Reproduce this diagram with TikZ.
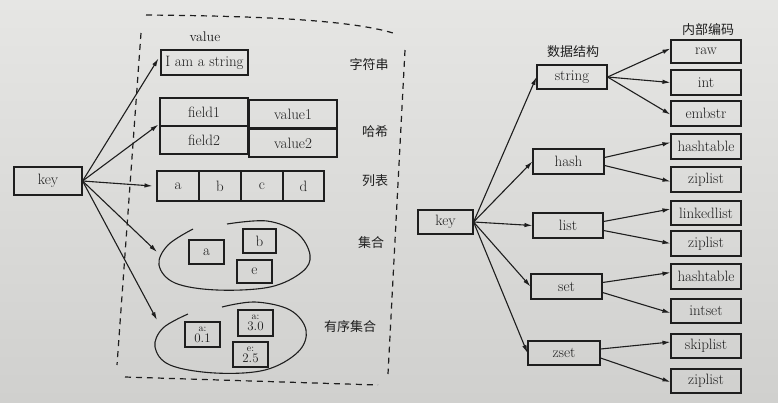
\documentclass[tikz,border=0pt]{standalone}
\usepackage{fontspec}
\newfontfamily\cjk{Noto Sans CJK SC}
\usetikzlibrary{arrows.meta}
\definecolor{paper}{RGB}{230,230,228}
\definecolor{paperdark}{RGB}{208,208,206}
\definecolor{ink}{RGB}{30,30,30}
\tikzset{
  box/.style={draw=ink, line width=1.1pt, inner sep=0pt, text=ink, font=\fontsize{15}{17}\selectfont},
  zbox/.style={box, align=center, font=\fontsize{12}{12}\selectfont},
  arr/.style={draw=ink, line width=1.1pt, -{Latex[length=8pt,width=4.5pt]}},
  dashline/.style={draw=ink, line width=1.2pt, dash pattern=on 6pt off 5pt},
  loopline/.style={draw=ink, line width=1.1pt},
  cn/.style={text=ink, font=\cjk\fontsize{13}{15}\selectfont},
  lbl/.style={text=ink, font=\fontsize{14}{16}\selectfont}
}
\newcommand{\zval}[2]{{\fontsize{10}{10}\selectfont #1}\\[-1pt]{\fontsize{13}{13}\selectfont #2}}
\begin{document}
\begin{tikzpicture}[x=1pt,y=-1pt]
\shade[top color=paper, bottom color=paperdark] (0,0) rectangle (778,402);
\useasboundingbox (0,0) rectangle (778,402);

% ---------- left diagram ----------
\node[box, minimum width=68pt, minimum height=28pt] (lkey) at (48,181) {key};
\node[lbl] (valuelbl) at (205,37) {value};
\node[box, minimum width=87pt, minimum height=25pt] (str) at (204.5,62.5) {I am a string};
\node[box, minimum width=88pt, minimum height=28pt] (f1) at (204,112) {field1};
\node[box, minimum width=88pt, minimum height=28pt] (v1) at (293,114) {value1};
\node[box, minimum width=88pt, minimum height=28pt] (f2) at (204,140) {field2};
\node[box, minimum width=88pt, minimum height=28pt] (v2) at (293,143) {value2};
\node[box, minimum width=42pt, minimum height=30pt] (la) at (178,186) {a};
\node[box, minimum width=42pt, minimum height=30pt] (lb) at (220,186) {b};
\node[box, minimum width=42pt, minimum height=30pt] (lc) at (262,186) {c};
\node[box, minimum width=41pt, minimum height=30pt] (ld) at (303.5,186) {d};
\node[box, minimum width=35pt, minimum height=24pt] (sa) at (206.5,252) {a};
\node[box, minimum width=33pt, minimum height=24pt] (sb) at (259.5,241) {b};
\node[box, minimum width=35pt, minimum height=23pt] (se) at (254.5,271.5) {e};
\node[zbox, minimum width=35pt, minimum height=25pt] (za) at (202.5,334.5) {\zval{a:}{0.1}};
\node[zbox, minimum width=35pt, minimum height=26pt] (zb) at (255.5,323) {\zval{a:}{3.0}};
\node[zbox, minimum width=35pt, minimum height=25pt] (ze) at (250.5,354.5) {\zval{e:}{2.5}};

\draw[loopline] plot[smooth, tension=0.6] coordinates {(193,229) (168,245) (159,265) (175,283) (217,290) (270,287) (302,272) (310,255) (297,233) (267,221) (227,224)};
\draw[loopline] plot[smooth, tension=0.6] coordinates {(188,314) (163,328) (155,347) (170,365) (215,373) (265,370) (298,352) (306,330) (290,310) (255,302) (222,307)};

\node[cn] (c1) at (369,65) {字符串};
\node[cn] (c2) at (375,132) {哈希};
\node[cn] (c3) at (375,181) {列表};
\node[cn] (c4) at (371,243) {集合};
\node[cn] (c5) at (350,327) {有序集合};

\draw[dashline] (146,15) .. controls (260,16) and (350,20) .. (393,33);
\draw[dashline] (141,33) -- (117,365);
\draw[dashline] (405,50) -- (388,374);
\draw[dashline] (125,377) -- (378,385);

\coordinate (setTip) at (157,252);
\coordinate (zsetTip) at (157,320);
\draw[arr] (lkey.east) -- ([xshift=-2pt,yshift=4pt]str.west);
\draw[arr] (lkey.east) -- ([xshift=-1pt,yshift=2pt]f1.south west);
\draw[arr] (lkey.east) -- ([xshift=-4pt]la.west);
\draw[arr] (lkey.east) -- (setTip);
\draw[arr] (lkey.east) -- (zsetTip);

% ---------- right diagram ----------
\node[cn] (dslbl) at (573,52) {数据结构};
\node[cn] (enclbl) at (708,30) {内部编码};
\node[box, minimum width=55pt, minimum height=24pt] (rkey) at (445.5,222) {key};
\node[box, minimum width=70pt, minimum height=24pt] (string) at (572,77) {string};
\node[box, minimum width=71pt, minimum height=25pt] (hash) at (568.5,161.5) {hash};
\node[box, minimum width=70pt, minimum height=25pt] (list) at (568,225.5) {list};
\node[box, minimum width=71pt, minimum height=25pt] (set) at (566.5,286.5) {set};
\node[box, minimum width=72pt, minimum height=24pt] (zset) at (564,353) {zset};

\node[box, minimum width=70pt, minimum height=23pt] (raw) at (706,51.5) {raw};
\node[box, minimum width=70pt, minimum height=25pt] (int) at (706,82.5) {int};
\node[box, minimum width=70pt, minimum height=25pt] (embstr) at (706,113.5) {embstr};
\node[box, minimum width=70pt, minimum height=25pt] (ht1) at (706,146.5) {hashtable};
\node[box, minimum width=70pt, minimum height=25pt] (zl1) at (706,179.5) {ziplist};
\node[box, minimum width=70pt, minimum height=24pt] (ll) at (706,213) {linkedlist};
\node[box, minimum width=70pt, minimum height=25pt] (zl2) at (706,243.5) {ziplist};
\node[box, minimum width=70pt, minimum height=25pt] (ht2) at (706,276.5) {hashtable};
\node[box, minimum width=70pt, minimum height=24pt] (is) at (706,311) {intset};
\node[box, minimum width=70pt, minimum height=24pt] (sl) at (706,346) {skiplist};
\node[box, minimum width=70pt, minimum height=24pt] (zl3) at (706,381) {ziplist};

\draw[arr] (rkey.east) -- (string.west);
\draw[arr] (rkey.east) -- (hash.west);
\draw[arr] (rkey.east) -- (list.west);
\draw[arr] (rkey.east) -- (set.west);
\draw[arr] (rkey.east) -- (zset.west);

\draw[arr] (string.east) -- ([yshift=3pt]raw.west);
\draw[arr] (string.east) -- (int.west);
\draw[arr] (string.east) -- ([yshift=-1pt]embstr.west);
\draw[arr] ([yshift=4pt]hash.east) -- ([yshift=4pt]ht1.west);
\draw[arr] ([yshift=-4pt]hash.east) -- ([yshift=-2pt]zl1.west);
\draw[arr] ([yshift=4pt]list.east) -- ([yshift=4pt]ll.west);
\draw[arr] ([yshift=-5pt]list.east) -- (zl2.west);
\draw[arr] ([yshift=4pt]set.east) -- ([yshift=4pt]ht2.west);
\draw[arr] ([yshift=-6pt]set.east) -- ([yshift=-2pt]is.west);
\draw[arr] ([yshift=4pt]zset.east) -- ([yshift=4pt]sl.west);
\draw[arr] ([yshift=-5pt]zset.east) -- ([yshift=-1pt]zl3.west);
\end{tikzpicture}
\end{document}
